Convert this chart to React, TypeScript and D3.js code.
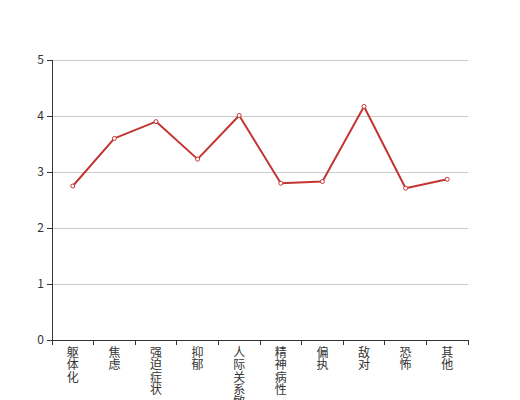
import React from "react";
import * as d3 from "d3";

const categories = ["躯体化", "焦虑", "强迫症状", "抑郁", "人际关系敏感", "精神病性", "偏执", "敌对", "恐怖", "其他"];
const values = [2.75, 3.6, 3.9, 3.23, 4.01, 2.8, 2.83, 4.17, 2.71, 2.87];
const yTicks = [0, 1, 2, 3, 4, 5];

const W = 520, H = 400;
const left = 52, right = 468, top = 60, bottom = 340;
const color = "#c23531";
const font = "'Noto Sans CJK SC', 'Noto Sans', sans-serif";

export default function App() {
  const x = d3.scaleBand<string>().domain(categories).range([left, right]);
  const y = d3.scaleLinear().domain([0, 5]).range([bottom, top]);
  const cx = (c: string) => (x(c) as number) + x.bandwidth() / 2;
  const line = d3.line<number>().x((_, i) => cx(categories[i])).y((d) => y(d));
  const boundaries = categories.map((c) => x(c) as number).concat([right]);

  return (
    <svg width={W} height={H} style={{ position: "absolute", left: 0, top: 0, background: "#fff" }}>
      {yTicks.map((t) => (
        <g key={t}>
          {t > 0 && <line x1={left} x2={right} y1={y(t)} y2={y(t)} stroke="#ccc" strokeWidth={1} shapeRendering="crispEdges" />}
          <line x1={left - 5} x2={left} y1={y(t)} y2={y(t)} stroke="#333" strokeWidth={1} shapeRendering="crispEdges" />
          <text x={left - 8} y={y(t)} dy="0.35em" textAnchor="end" fontSize={12} fill="#333" fontFamily={font}>{t}</text>
        </g>
      ))}
      <line x1={left} x2={left} y1={top} y2={bottom} stroke="#333" strokeWidth={1} shapeRendering="crispEdges" />
      <line x1={left} x2={right} y1={bottom} y2={bottom} stroke="#333" strokeWidth={1} shapeRendering="crispEdges" />
      {boundaries.map((b, i) => (
        <line key={i} x1={b} x2={b} y1={bottom} y2={bottom + 5} stroke="#333" strokeWidth={1} shapeRendering="crispEdges" />
      ))}
      {categories.map((c) => (
        <text key={c} x={cx(c)} y={357} textAnchor="middle" fontSize={12} fill="#333" fontFamily={font}>
          {Array.from(c).map((ch, j) => (
            <tspan key={j} x={cx(c)} y={357 + j * 12.3}>{ch}</tspan>
          ))}
        </text>
      ))}
      <path d={line(values) || ""} fill="none" stroke={color} strokeWidth={2} strokeLinejoin="round" />
      {values.map((v, i) => (
        <circle key={i} cx={cx(categories[i])} cy={y(v)} r={2} fill="#fff" stroke={color} strokeWidth={1} />
      ))}
    </svg>
  );
}
